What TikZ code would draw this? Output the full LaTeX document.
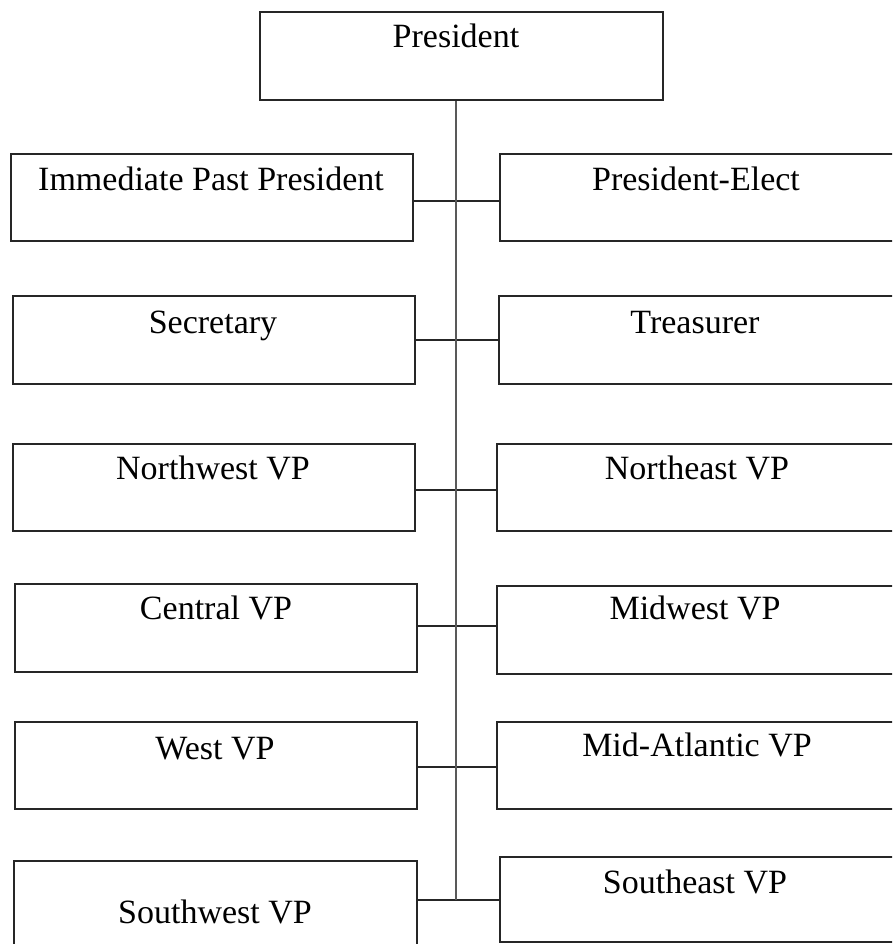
\documentclass[tikz,border=0pt]{standalone}
\usepackage{fontspec}
\setmainfont{Liberation Serif}
\begin{document}
\begin{tikzpicture}[x=1pt,y=1pt,
  box/.style={draw=black!85, line width=1.8pt, rectangle, anchor=north west, inner sep=0pt},
  lbl/.style={anchor=base, inner sep=0pt, font=\fontsize{34}{40}\selectfont},
  conn/.style={draw=black!85, line width=1.8pt},
  spine/.style={draw=black!65, line width=2.2pt}]
\clip (0,0) rectangle (892,-944);
\fill[white] (0,0) rectangle (892,-944);
% President
\node[box, minimum width=403, minimum height=88] (pres) at (259,-11) {};
\node[lbl] (tpres) at (456,-48) {President};
% Row 1
\node[box, minimum width=402, minimum height=87] (L1) at (10,-153) {};
\node[box, minimum width=420, minimum height=87] (R1) at (499,-153) {};
\node[lbl] (tL1) at (211,-190) {Immediate Past President};
\node[lbl] (tR1) at (696,-190) {President-Elect};
% Row 2
\node[box, minimum width=402, minimum height=88] (L2) at (12,-295) {};
\node[box, minimum width=420, minimum height=88] (R2) at (498,-295) {};
\node[lbl] (tL2) at (213,-333) {Secretary};
\node[lbl] (tR2) at (695,-333) {Treasurer};
% Row 3
\node[box, minimum width=402, minimum height=87] (L3) at (12,-443) {};
\node[box, minimum width=420, minimum height=87] (R3) at (496,-443) {};
\node[lbl] (tL3) at (213,-479) {Northwest VP};
\node[lbl] (tR3) at (697,-479) {Northeast VP};
% Row 4
\node[box, minimum width=402, minimum height=88] (L4) at (14,-583) {};
\node[box, minimum width=420, minimum height=88] (R4) at (496,-585) {};
\node[lbl] (tL4) at (216,-619) {Central VP};
\node[lbl] (tR4) at (695,-619) {Midwest VP};
% Row 5
\node[box, minimum width=402, minimum height=87] (L5) at (14,-721) {};
\node[box, minimum width=420, minimum height=87] (R5) at (496,-721) {};
\node[lbl] (tL5) at (215,-759) {West VP};
\node[lbl] (tR5) at (697,-756) {Mid-Atlantic VP};
% Row 6
\node[box, minimum width=403, minimum height=110] (L6) at (13,-860) {};
\node[box, minimum width=420, minimum height=85] (R6) at (499,-856) {};
\node[lbl] (tL6) at (215,-923) {Southwest VP};
\node[lbl] (tR6) at (695,-893) {Southeast VP};
% junctions on the spine
\coordinate (j1) at (456,-201);
\coordinate (j2) at (456,-340);
\coordinate (j3) at (456,-490);
\coordinate (j4) at (456,-626);
\coordinate (j5) at (456,-767);
\coordinate (j6) at (456,-900);
% connectors
\foreach \i in {1,...,6} {
  \draw[conn] (j\i -| L\i.east) -- (j\i -| R\i.west);
}
\draw[spine] (j6 |- pres.south) -- (j6);
\end{tikzpicture}
\end{document}
